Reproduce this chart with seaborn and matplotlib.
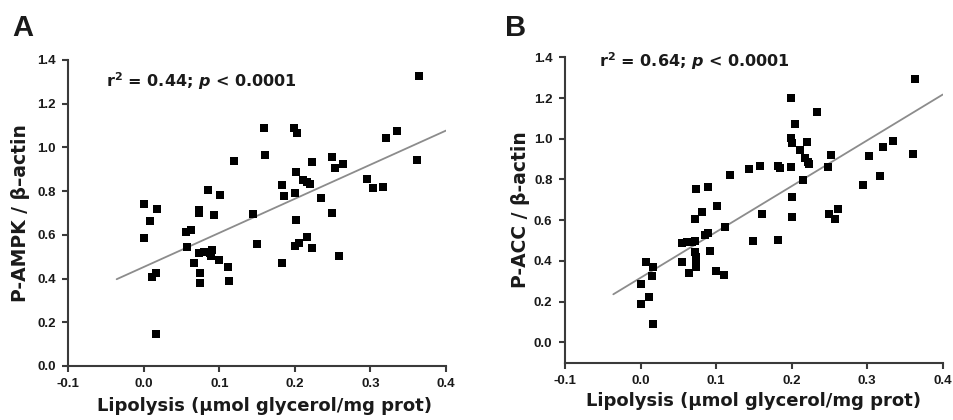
import numpy as np
import pandas as pd
import matplotlib
matplotlib.use("Agg")
import matplotlib.pyplot as plt
import seaborn as sns

# ---------------- data ----------------
a_x = [0.000, 0.000, 0.008, 0.018, 0.011, 0.016, 0.016, 0.056, 0.063, 0.057,
       0.066, 0.073, 0.073, 0.073, 0.080, 0.087, 0.090, 0.089, 0.074, 0.074,
       0.085, 0.093, 0.101, 0.100, 0.112, 0.113, 0.120, 0.144, 0.150, 0.159,
       0.161, 0.183, 0.185, 0.183, 0.199, 0.203, 0.202, 0.200, 0.201, 0.200,
       0.206, 0.216, 0.222, 0.211, 0.216, 0.220, 0.222, 0.235, 0.249, 0.253,
       0.263, 0.249, 0.258, 0.295, 0.304, 0.317, 0.321, 0.335, 0.361, 0.364]
a_y = [0.740, 0.585, 0.663, 0.717, 0.407, 0.424, 0.148, 0.613, 0.620, 0.543,
       0.473, 0.715, 0.702, 0.515, 0.520, 0.515, 0.531, 0.505, 0.427, 0.380,
       0.805, 0.692, 0.784, 0.485, 0.452, 0.389, 0.937, 0.694, 0.557, 1.091,
       0.967, 0.827, 0.778, 0.473, 1.089, 1.065, 0.889, 0.790, 0.668, 0.551,
       0.562, 0.592, 0.935, 0.851, 0.843, 0.831, 0.539, 0.767, 0.958, 0.904,
       0.923, 0.699, 0.503, 0.856, 0.816, 0.817, 1.041, 1.077, 0.941, 1.328]

b_x = [0.000, 0.001, 0.011, 0.007, 0.015, 0.017, 0.016, 0.055, 0.055, 0.062,
       0.068, 0.072, 0.072, 0.073, 0.072, 0.073, 0.074, 0.073, 0.064, 0.082,
       0.085, 0.089, 0.089, 0.092, 0.101, 0.100, 0.112, 0.111, 0.119, 0.143,
       0.158, 0.149, 0.161, 0.182, 0.184, 0.182, 0.199, 0.199, 0.201, 0.199,
       0.201, 0.201, 0.205, 0.211, 0.215, 0.220, 0.218, 0.222, 0.223, 0.234,
       0.248, 0.252, 0.249, 0.257, 0.262, 0.294, 0.303, 0.317, 0.321, 0.334,
       0.360, 0.363]
b_y = [0.188, 0.285, 0.221, 0.396, 0.324, 0.372, 0.092, 0.488, 0.395, 0.494,
       0.494, 0.499, 0.442, 0.753, 0.606, 0.418, 0.404, 0.372, 0.342, 0.639,
       0.527, 0.537, 0.765, 0.450, 0.671, 0.352, 0.567, 0.332, 0.822, 0.850,
       0.868, 0.496, 0.632, 0.866, 0.855, 0.501, 1.200, 1.005, 0.981, 0.863,
       0.714, 0.614, 1.073, 0.945, 0.797, 0.982, 0.904, 0.888, 0.876, 1.131,
       0.863, 0.920, 0.629, 0.604, 0.653, 0.771, 0.917, 0.819, 0.961, 0.987,
       0.925, 1.294]

# regression lines as drawn in the figure (end points)
fit_x = [-0.036, 0.400]
fit_a_y = [0.397, 1.077]
fit_b_y = [0.236, 1.217]

x_ticks = [-0.1, 0.0, 0.1, 0.2, 0.3, 0.4]
y_ticks = [0.0, 0.2, 0.4, 0.6, 0.8, 1.0, 1.2, 1.4]

panel_letters = ["A", "B"]
y_labels = ["P-AMPK / β\u2013actin", "P-ACC / β-actin"]
x_label = "Lipolysis (μmol glycerol/mg prot)"
stats_text = [r"r$^{2}$ = 0.44; $\mathit{p}$ < 0.0001",
              r"r$^{2}$ = 0.64; $\mathit{p}$ < 0.0001"]

# ---------------- style ----------------
sns.set_theme(style="ticks")
plt.rcParams["font.family"] = ["DejaVu Sans"]
plt.rcParams["font.weight"] = "bold"
plt.rcParams["mathtext.fontset"] = "custom"
plt.rcParams["mathtext.rm"] = "DejaVu Sans:bold"
plt.rcParams["mathtext.bf"] = "DejaVu Sans:bold"
plt.rcParams["mathtext.it"] = "DejaVu Sans:bold:italic"
spine_col = "#3a3a3a"
text_col = "#1a1a1a"

fig = plt.figure(figsize=(9.54, 4.2), dpi=100)
axA = fig.add_axes([0.0716, 0.1286, 0.3959, 0.7286])
axB = fig.add_axes([0.5922, 0.1364, 0.3960, 0.7272])

panels = [
    (axA, a_x, a_y, fit_a_y, (0.0, 1.4), (-0.05, 1.275), 5, (0.52, -0.102)),
    (axB, b_x, b_y, fit_b_y, (-0.1, 1.4), (-0.055, 1.354), 3, (0.5, -0.095)),
]

for i, (ax, xs, ys, fy, ylim, tpos, ypad, xlab_pos) in enumerate(panels):
    df = pd.DataFrame({"x": xs, "y": ys})
    sns.scatterplot(data=df, x="x", y="y", ax=ax, marker="s", s=30,
                    color="black", edgecolor="black", linewidth=0, zorder=3)
    fit_df = pd.DataFrame({"x": fit_x, "y": fy})
    sns.lineplot(data=fit_df, x="x", y="y", ax=ax, color="#8c8c8c", lw=1.3, zorder=2)

    ax.set_xlim(-0.1, 0.4)
    ax.set_ylim(*ylim)
    ax.set_xticks(x_ticks)
    ax.set_xticklabels([f"{t:.1f}" for t in x_ticks])
    ax.set_yticks(y_ticks)
    ax.set_yticklabels([f"{t:.1f}" for t in y_ticks])
    ax.tick_params(axis="both", labelsize=9.5, width=1.5, length=4, pad=5,
                   color=spine_col, labelcolor=text_col, direction="out")
    for lab in ax.get_xticklabels() + ax.get_yticklabels():
        lab.set_fontfamily("Liberation Sans")
        lab.set_fontweight("bold")
    for sp in ["top", "right"]:
        ax.spines[sp].set_visible(False)
    for sp in ["left", "bottom"]:
        ax.spines[sp].set_linewidth(1.5)
        ax.spines[sp].set_color(spine_col)

    ax.set_xlabel(x_label, fontsize=13, fontweight="bold", color=text_col)
    ax.xaxis.set_label_coords(*xlab_pos)
    ax.xaxis.label.set_va("top")
    ax.set_ylabel(y_labels[i], fontsize=13.5, fontweight="bold", labelpad=ypad, color=text_col)
    ax.text(tpos[0], tpos[1], stats_text[i], fontsize=11.5, fontweight="bold",
            ha="left", va="baseline", color=text_col)

fig.text(12 / 954, 1 - 36 / 420, panel_letters[0], fontsize=21, fontweight="bold",
         family="Liberation Sans", ha="left", va="baseline", color=text_col)
fig.text(505 / 954, 1 - 36 / 420, panel_letters[1], fontsize=21, fontweight="bold",
         family="Liberation Sans", ha="left", va="baseline", color=text_col)

fig.savefig("out.png", dpi=100)
